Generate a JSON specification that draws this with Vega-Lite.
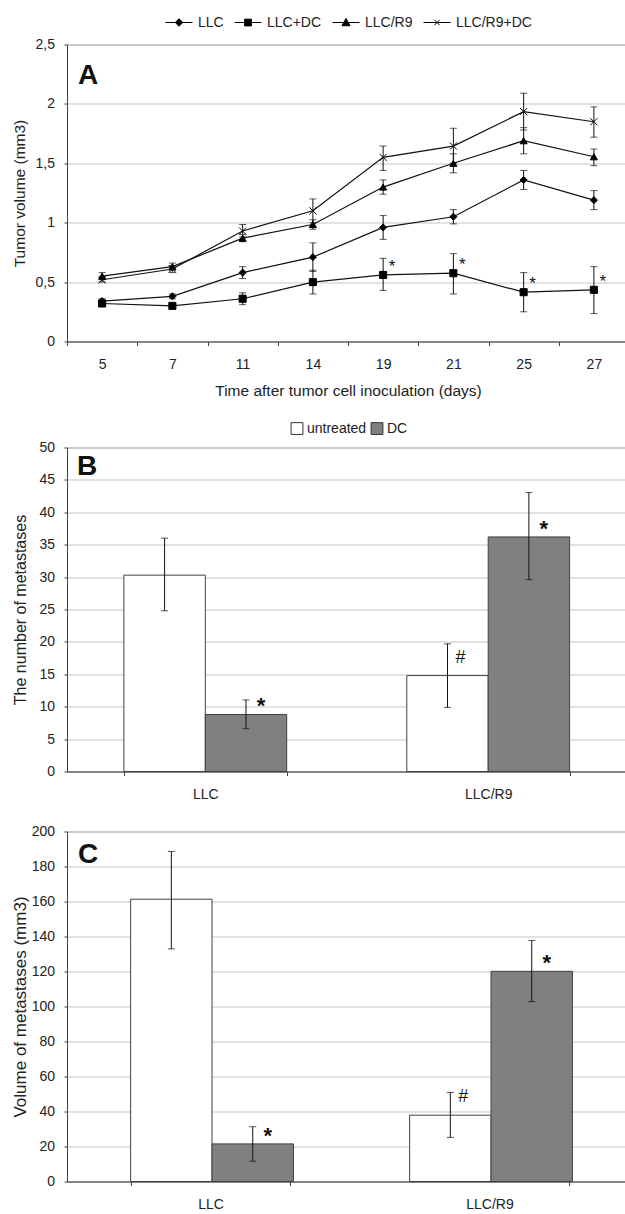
{
  "$schema": "https://vega.github.io/schema/vega-lite/v6.json",
  "background": "white",
  "padding": {"left": 10, "top": 7.5, "right": 0, "bottom": 0},
  "config": {
    "font": "Liberation Sans",
    "view": {"stroke": "#404040", "strokeWidth": 1},
    "axis": {
      "labelFont": "Liberation Sans", "labelFontSize": 14, "labelColor": "#222222",
      "titleFont": "Liberation Sans", "titleFontSize": 15.5, "titleFontWeight": "normal", "titleColor": "#222222",
      "domainColor": "#404040", "tickColor": "#404040", "gridColor": "#d9d9d9", "gridWidth": 1.3
    },
    "legend": {
      "labelFont": "Liberation Sans", "labelFontSize": 14, "labelColor": "#222222",
      "layout": {"top": {"anchor": "middle"}}
    },
    "title": {"font": "Liberation Sans", "fontSize": 28, "fontWeight": "bold", "color": "#111111", "anchor": "start", "frame": "group", "offset": 0, "baseline": "alphabetic"}
  },
  "datasets": {
    "tumor": [
      {"series": "LLC", "day": 5, "v": 0.34, "lo": 0.32, "hi": 0.36, "sig": ""},
      {"series": "LLC", "day": 7, "v": 0.38, "lo": 0.36, "hi": 0.40, "sig": ""},
      {"series": "LLC", "day": 11, "v": 0.58, "lo": 0.53, "hi": 0.63, "sig": ""},
      {"series": "LLC", "day": 14, "v": 0.71, "lo": 0.59, "hi": 0.83, "sig": ""},
      {"series": "LLC", "day": 19, "v": 0.96, "lo": 0.86, "hi": 1.06, "sig": ""},
      {"series": "LLC", "day": 21, "v": 1.05, "lo": 0.99, "hi": 1.11, "sig": ""},
      {"series": "LLC", "day": 25, "v": 1.36, "lo": 1.28, "hi": 1.44, "sig": ""},
      {"series": "LLC", "day": 27, "v": 1.19, "lo": 1.11, "hi": 1.27, "sig": ""},
      {"series": "LLC+DC", "day": 5, "v": 0.32, "lo": 0.30, "hi": 0.34, "sig": ""},
      {"series": "LLC+DC", "day": 7, "v": 0.30, "lo": 0.28, "hi": 0.32, "sig": ""},
      {"series": "LLC+DC", "day": 11, "v": 0.36, "lo": 0.31, "hi": 0.41, "sig": ""},
      {"series": "LLC+DC", "day": 14, "v": 0.50, "lo": 0.40, "hi": 0.60, "sig": ""},
      {"series": "LLC+DC", "day": 19, "v": 0.56, "lo": 0.43, "hi": 0.70, "sig": "*"},
      {"series": "LLC+DC", "day": 21, "v": 0.575, "lo": 0.40, "hi": 0.74, "sig": "*"},
      {"series": "LLC+DC", "day": 25, "v": 0.415, "lo": 0.25, "hi": 0.58, "sig": "*"},
      {"series": "LLC+DC", "day": 27, "v": 0.435, "lo": 0.235, "hi": 0.63, "sig": "*"},
      {"series": "LLC/R9", "day": 5, "v": 0.55, "lo": 0.52, "hi": 0.58, "sig": ""},
      {"series": "LLC/R9", "day": 7, "v": 0.63, "lo": 0.60, "hi": 0.66, "sig": ""},
      {"series": "LLC/R9", "day": 11, "v": 0.87, "lo": 0.84, "hi": 0.90, "sig": ""},
      {"series": "LLC/R9", "day": 14, "v": 0.985, "lo": 0.945, "hi": 1.025, "sig": ""},
      {"series": "LLC/R9", "day": 19, "v": 1.30, "lo": 1.24, "hi": 1.36, "sig": ""},
      {"series": "LLC/R9", "day": 21, "v": 1.50, "lo": 1.42, "hi": 1.58, "sig": ""},
      {"series": "LLC/R9", "day": 25, "v": 1.69, "lo": 1.58, "hi": 1.80, "sig": ""},
      {"series": "LLC/R9", "day": 27, "v": 1.555, "lo": 1.48, "hi": 1.62, "sig": ""},
      {"series": "LLC/R9+DC", "day": 5, "v": 0.52, "lo": 0.50, "hi": 0.54, "sig": ""},
      {"series": "LLC/R9+DC", "day": 7, "v": 0.61, "lo": 0.58, "hi": 0.64, "sig": ""},
      {"series": "LLC/R9+DC", "day": 11, "v": 0.93, "lo": 0.88, "hi": 0.985, "sig": ""},
      {"series": "LLC/R9+DC", "day": 14, "v": 1.10, "lo": 1.00, "hi": 1.20, "sig": ""},
      {"series": "LLC/R9+DC", "day": 19, "v": 1.55, "lo": 1.44, "hi": 1.645, "sig": ""},
      {"series": "LLC/R9+DC", "day": 21, "v": 1.645, "lo": 1.50, "hi": 1.795, "sig": ""},
      {"series": "LLC/R9+DC", "day": 25, "v": 1.935, "lo": 1.78, "hi": 2.09, "sig": ""},
      {"series": "LLC/R9+DC", "day": 27, "v": 1.85, "lo": 1.72, "hi": 1.975, "sig": ""}
    ],
    "num": [
      {"group": "LLC", "treat": "untreated", "v": 30.3, "lo": 24.8, "hi": 36.0, "sig": ""},
      {"group": "LLC", "treat": "DC", "v": 8.8, "lo": 6.6, "hi": 11.05, "sig": "*"},
      {"group": "LLC/R9", "treat": "untreated", "v": 14.8, "lo": 9.9, "hi": 19.7, "sig": "#"},
      {"group": "LLC/R9", "treat": "DC", "v": 36.2, "lo": 29.6, "hi": 43.05, "sig": "*"}
    ],
    "vol": [
      {"group": "LLC", "treat": "untreated", "v": 161.3, "lo": 132.9, "hi": 188.6, "sig": ""},
      {"group": "LLC", "treat": "DC", "v": 21.5, "lo": 11.6, "hi": 31.3, "sig": "*"},
      {"group": "LLC/R9", "treat": "untreated", "v": 37.9, "lo": 25.2, "hi": 50.9, "sig": "#"},
      {"group": "LLC/R9", "treat": "DC", "v": 120.1, "lo": 102.8, "hi": 137.7, "sig": "*"}
    ]
  },
  "columns": 1,
  "align": "none",
  "spacing": 21,
  "resolve": {"scale": {"color": "independent", "shape": "independent"}, "legend": {"color": "independent", "shape": "independent"}},
  "concat": [
    {
      "title": {"text": "A", "dx": 11, "dy": 85},
      "width": 562,
      "height": 297,
      "data": {"name": "tumor"},
      "encoding": {
        "x": {
          "field": "day", "type": "ordinal",
          "scale": {"type": "band", "domain": [5, 7, 11, 14, 19, 21, 25, 27], "paddingInner": 0, "paddingOuter": 0},
          "axis": {"title": "Time after tumor cell inoculation (days)", "labelAngle": 0, "tickBand": "extent", "grid": false, "tickSize": 4, "labelPadding": 12, "titlePadding": 11.5}
        },
        "y": {
          "field": "v", "type": "quantitative", "title": "Tumor volume (mm3)",
          "scale": {"domain": [0, 2.5], "nice": false},
          "axis": {"values": [0, 0.5, 1, 1.5, 2, 2.5], "format": ".1~f", "labelExpr": "replace(datum.label, '.', ',')", "tickSize": 3, "labelPadding": 9.5, "titlePadding": 7.5, "titleFontSize": 15.5}
        }
      },
      "layer": [
        {
          "mark": {"type": "line", "color": "#111111", "strokeWidth": 1.2},
          "encoding": {"detail": {"field": "series", "type": "nominal"}}
        },
        {
          "mark": {"type": "rule", "color": "#111111", "strokeWidth": 1},
          "encoding": {"y": {"field": "lo", "type": "quantitative", "title": "Tumor volume (mm3)"}, "y2": {"field": "hi"}}
        },
        {
          "mark": {"type": "tick", "color": "#111111", "size": 7, "thickness": 1},
          "encoding": {"y": {"field": "lo", "type": "quantitative", "title": "Tumor volume (mm3)"}}
        },
        {
          "mark": {"type": "tick", "color": "#111111", "size": 7, "thickness": 1},
          "encoding": {"y": {"field": "hi", "type": "quantitative", "title": "Tumor volume (mm3)"}}
        },
        {
          "mark": {"type": "point", "filled": true, "color": "black", "fill": "black", "stroke": "black", "strokeWidth": 1, "size": 50, "opacity": 1},
          "encoding": {
            "shape": {
              "field": "series", "type": "nominal",
              "scale": {"domain": ["LLC", "LLC+DC", "LLC/R9", "LLC/R9+DC"], "range": ["diamond", "square", "triangle-up", "M-1,-1L1,1M-1,1L1,-1"]},
              "legend": null
            }
          }
        },
        {
          "mark": {"type": "point", "filled": true, "color": "black", "fill": "black", "stroke": "black", "strokeWidth": 1, "opacity": 0},
          "encoding": {
            "shape": {
              "field": "series", "type": "nominal",
              "scale": {"domain": ["LLC", "LLC+DC", "LLC/R9", "LLC/R9+DC"], "range": [
                "M-1,0L1,0M0,-0.28L0.28,0L0,0.28L-0.28,0Z",
                "M-1,0L1,0M-0.25,-0.25L0.25,-0.25L0.25,0.25L-0.25,0.25Z",
                "M-1,0L1,0M0,-0.3L0.3,0.24L-0.3,0.24Z",
                "M-1,0L1,0M-0.2,-0.2L0.2,0.2M-0.2,0.2L0.2,-0.2"
              ]},
              "legend": {
                "orient": "top", "direction": "horizontal", "title": null,
                "symbolSize": 729, "symbolStrokeWidth": 1, "symbolFillColor": "black", "symbolStrokeColor": "black", "symbolOpacity": 1,
                "labelOffset": 5, "columnPadding": 8, "offset": 15, "padding": 0, "labelFontSize": 14,
                "encoding": {"symbols": {"stroke": {"value": "black"}, "strokeWidth": {"value": 1}, "fill": {"value": "black"}, "opacity": {"value": 1}}}
              }
            }
          }
        },
        {
          "transform": [{"filter": "datum.sig == '*'"}],
          "mark": {"type": "text", "fontSize": 17, "align": "center", "baseline": "middle", "dx": 9, "dy": -8, "color": "#111111"},
          "encoding": {"text": {"field": "sig"}}
        }
      ],
      "resolve": {"scale": {"shape": "independent"}}
    },
    {
      "title": {"text": "B", "dx": 10, "dy": 63},
      "width": 563,
      "height": 324,
      "data": {"name": "num"},
      "encoding": {
        "x": {
          "field": "group", "type": "nominal",
          "scale": {"type": "band", "domain": ["LLC", "LLC/R9"], "paddingInner": 0.4245, "paddingOuter": 0.2073, "align": 0.485},
          "axis": {"title": null, "labelAngle": 0, "tickBand": "extent", "grid": false, "tickSize": 4, "labelPadding": 12}
        },
        "y": {
          "field": "v", "type": "quantitative", "title": "The number of metastases",
          "scale": {"domain": [0, 50], "nice": false},
          "axis": {"values": [0, 5, 10, 15, 20, 25, 30, 35, 40, 45, 50], "tickSize": 3, "labelPadding": 9.5, "titlePadding": 10.9, "titleFontSize": 16}
        }
      },
      "layer": [
        {
          "mark": {"type": "bar", "stroke": "#404040", "strokeWidth": 1},
          "encoding": {
            "xOffset": {"field": "treat", "type": "nominal", "scale": {"domain": ["untreated", "DC"], "paddingInner": 0, "paddingOuter": 0}},
            "color": {
              "field": "treat", "type": "nominal",
              "scale": {"domain": ["untreated", "DC"], "range": ["#ffffff", "#808080"]},
              "legend": {"orient": "top", "direction": "horizontal", "title": null, "symbolType": "square", "symbolSize": 140, "symbolStrokeColor": "#333333", "symbolStrokeWidth": 1, "labelOffset": 3, "columnPadding": 2, "offset": 11, "padding": 0, "labelFontSize": 14,
                "encoding": {"symbols": {"stroke": {"value": "#333333"}, "strokeWidth": {"value": 1}}}}
            }
          }
        },
        {
          "mark": {"type": "rule", "color": "#111111", "strokeWidth": 1},
          "encoding": {"xOffset": {"field": "treat", "type": "nominal"}, "y": {"field": "lo", "type": "quantitative", "title": "The number of metastases"}, "y2": {"field": "hi"}}
        },
        {
          "mark": {"type": "tick", "color": "#111111", "size": 7, "thickness": 1},
          "encoding": {"xOffset": {"field": "treat", "type": "nominal"}, "y": {"field": "lo", "type": "quantitative", "title": "The number of metastases"}}
        },
        {
          "mark": {"type": "tick", "color": "#111111", "size": 7, "thickness": 1},
          "encoding": {"xOffset": {"field": "treat", "type": "nominal"}, "y": {"field": "hi", "type": "quantitative", "title": "The number of metastases"}}
        },
        {
          "transform": [{"filter": "datum.sig == '*'"}],
          "mark": {"type": "text", "fontSize": 22, "fontWeight": "bold", "align": "center", "baseline": "middle", "dx": 15, "dy": -8, "color": "#111111"},
          "encoding": {"xOffset": {"field": "treat", "type": "nominal"}, "text": {"field": "sig"}}
        },
        {
          "transform": [{"filter": "datum.sig == '#'"}],
          "mark": {"type": "text", "fontSize": 18, "align": "center", "baseline": "middle", "dx": 13, "dy": -18, "color": "#111111"},
          "encoding": {"xOffset": {"field": "treat", "type": "nominal"}, "text": {"field": "sig"}}
        }
      ]
    },
    {
      "title": {"text": "C", "dx": 11, "dy": 48},
      "width": 562,
      "height": 350,
      "data": {"name": "vol"},
      "encoding": {
        "x": {
          "field": "group", "type": "nominal",
          "scale": {"type": "band", "domain": ["LLC", "LLC/R9"], "paddingInner": 0.4276, "paddingOuter": 0.221, "align": 0.516},
          "axis": {"title": null, "labelAngle": 0, "tickBand": "extent", "grid": false, "tickSize": 4, "labelPadding": 12}
        },
        "y": {
          "field": "v", "type": "quantitative", "title": "Volume of metastases (mm3)",
          "scale": {"domain": [0, 200], "nice": false},
          "axis": {"values": [0, 20, 40, 60, 80, 100, 120, 140, 160, 180, 200], "tickSize": 3, "labelPadding": 9.5, "titlePadding": 2.1, "titleFontSize": 17}
        }
      },
      "layer": [
        {
          "mark": {"type": "bar", "stroke": "#404040", "strokeWidth": 1},
          "encoding": {
            "xOffset": {"field": "treat", "type": "nominal", "scale": {"domain": ["untreated", "DC"], "paddingInner": 0, "paddingOuter": 0}},
            "color": {
              "field": "treat", "type": "nominal",
              "scale": {"domain": ["untreated", "DC"], "range": ["#ffffff", "#808080"]},
              "legend": null
            }
          }
        },
        {
          "mark": {"type": "rule", "color": "#111111", "strokeWidth": 1},
          "encoding": {"xOffset": {"field": "treat", "type": "nominal"}, "y": {"field": "lo", "type": "quantitative", "title": "Volume of metastases (mm3)"}, "y2": {"field": "hi"}}
        },
        {
          "mark": {"type": "tick", "color": "#111111", "size": 7, "thickness": 1},
          "encoding": {"xOffset": {"field": "treat", "type": "nominal"}, "y": {"field": "lo", "type": "quantitative", "title": "Volume of metastases (mm3)"}}
        },
        {
          "mark": {"type": "tick", "color": "#111111", "size": 7, "thickness": 1},
          "encoding": {"xOffset": {"field": "treat", "type": "nominal"}, "y": {"field": "hi", "type": "quantitative", "title": "Volume of metastases (mm3)"}}
        },
        {
          "transform": [{"filter": "datum.sig == '*'"}],
          "mark": {"type": "text", "fontSize": 22, "fontWeight": "bold", "align": "center", "baseline": "middle", "dx": 15, "dy": -8, "color": "#111111"},
          "encoding": {"xOffset": {"field": "treat", "type": "nominal"}, "text": {"field": "sig"}}
        },
        {
          "transform": [{"filter": "datum.sig == '#'"}],
          "mark": {"type": "text", "fontSize": 18, "align": "center", "baseline": "middle", "dx": 13, "dy": -18, "color": "#111111"},
          "encoding": {"xOffset": {"field": "treat", "type": "nominal"}, "text": {"field": "sig"}}
        }
      ]
    }
  ]
}
